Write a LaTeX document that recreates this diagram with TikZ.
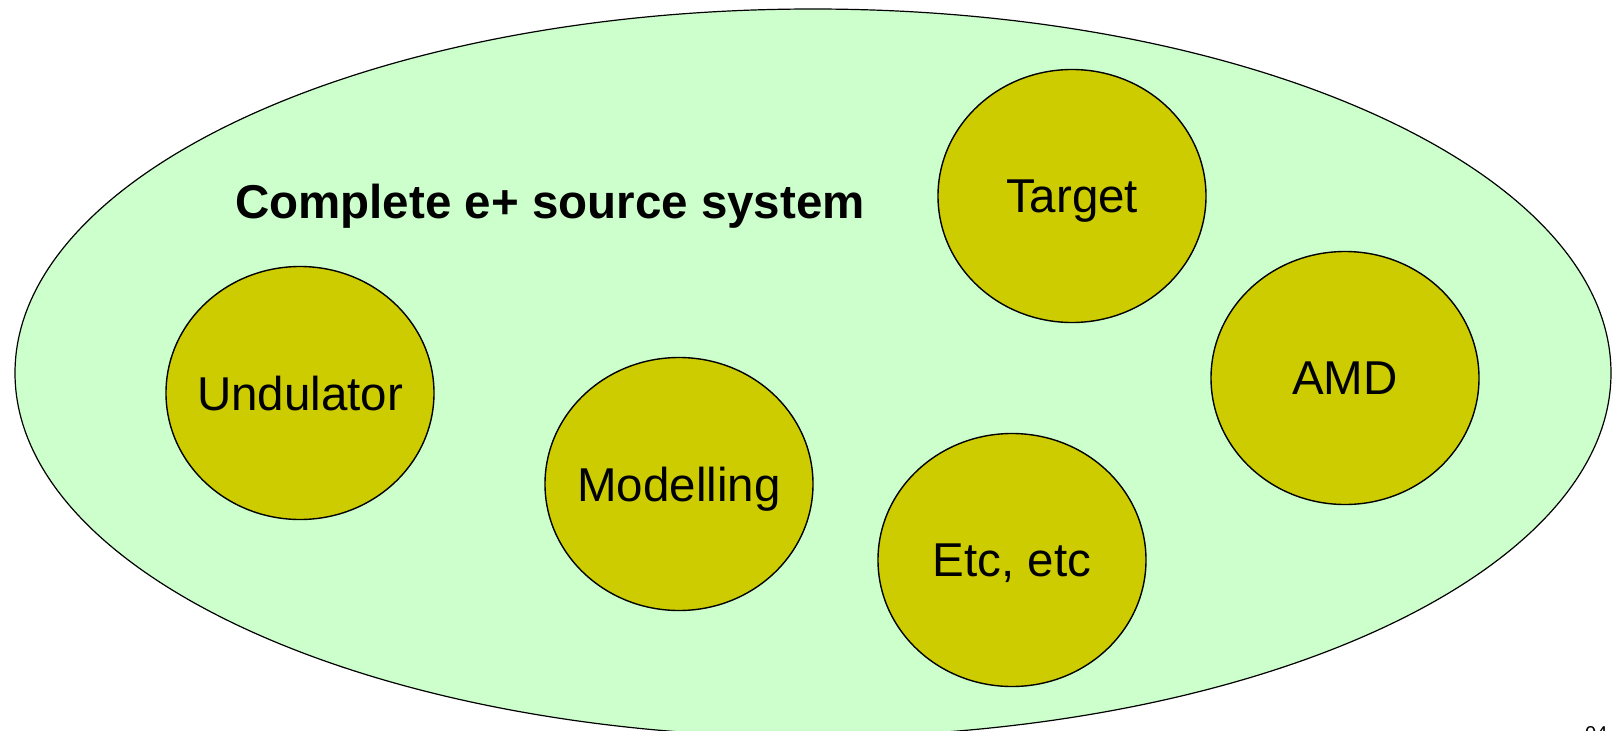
\documentclass[tikz,border=0pt]{standalone}
\usepackage{fontspec}
\setmainfont{Liberation Sans}
\usetikzlibrary{shapes.geometric}
\definecolor{paleGreen}{HTML}{CCFFCC}
\definecolor{olive}{HTML}{CCCC00}
\begin{document}
\begin{tikzpicture}[x=1pt,y=-1pt,
  outer/.style={draw=black,line width=1.2pt,fill=paleGreen},
  part/.style={ellipse,draw=black,line width=1.4pt,fill=olive,
    minimum width=268pt,minimum height=253pt,inner xsep=-40pt,inner ysep=0pt,
    text depth=0pt,font=\fontsize{47.5}{50}\selectfont}]
  \useasboundingbox (0,0) rectangle (1612,731);
  \begin{scope}
    \clip (0,0) rectangle (1612,731);
    \draw[outer] (813,373) ellipse [x radius=798, y radius=364];
    \node[anchor=north west,font=\fontsize{20}{22}\selectfont,inner sep=0pt] (pg) at (1585,726) {04};
  \end{scope}
  \node[font=\bfseries\fontsize{47.5}{50}\selectfont,text depth=0pt] (title) at (550,201) {Complete e+ source system};
  \node[part] (target) at (1072,196) {Target};
  \node[part] (undulator) at (300,393) {Undulator};
  \node[part] (modelling) at (679,484) {Modelling};
  \node[part] (etc) at (1012,560) {Etc, etc};
  \node[part] (amd) at (1345,378) {AMD};
\end{tikzpicture}
\end{document}
